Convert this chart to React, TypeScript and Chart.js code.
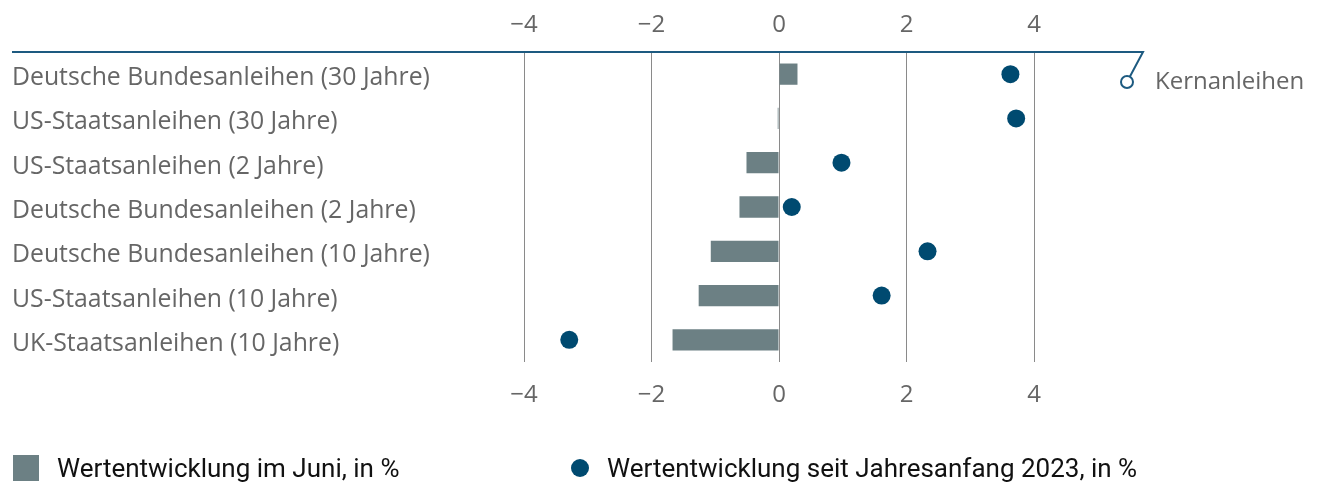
import React, { useEffect, useRef } from "react";
import { Chart, registerables } from "chart.js";

Chart.register(...registerables);

const categories = [
  "Deutsche Bundesanleihen (30 Jahre)",
  "US-Staatsanleihen (30 Jahre)",
  "US-Staatsanleihen (2 Jahre)",
  "Deutsche Bundesanleihen (2 Jahre)",
  "Deutsche Bundesanleihen (10 Jahre)",
  "US-Staatsanleihen (10 Jahre)",
  "UK-Staatsanleihen (10 Jahre)",
];
const juneValues = [0.29, -0.02, -0.51, -0.62, -1.07, -1.26, -1.67];
const ytdValues = [3.63, 3.72, 0.98, 0.2, 2.33, 1.61, -3.29];
const tickValues = [-4, -2, 0, 2, 4];
const juneLabel = "Wertentwicklung im Juni, in %";
const ytdLabel = "Wertentwicklung seit Jahresanfang 2023, in %";
const groupLabel = "Kernanleihen";

const BAR_COLOR = "#6c8084";
const DOT_COLOR = "#004a70";
const LINE_COLOR = "#1d5a80";
const TEXT_GRAY = "#666666";
const FONT = "'Open Sans'";
const LEGEND_FONT = "Roboto";

const fmt = (v: number) => (v < 0 ? "\u2212" + Math.abs(v) : String(v));

const decorPlugin = {
  id: "decor",
  afterDraw(chart: any) {
    const { ctx, chartArea } = chart;
    const top = chartArea.top;
    ctx.save();
    ctx.strokeStyle = LINE_COLOR;
    ctx.lineWidth = 2;
    const rightX = chartArea.right + 109;
    const cx = chartArea.right + 93;
    const cy = top + 30;
    const r = 6;
    ctx.beginPath();
    ctx.moveTo(4, top);
    ctx.lineTo(rightX, top);
    const ang = Math.atan2(top - cy, rightX - cx);
    ctx.lineTo(cx + r * Math.cos(ang), cy + r * Math.sin(ang));
    ctx.stroke();
    ctx.beginPath();
    ctx.arc(cx, cy, r, 0, Math.PI * 2);
    ctx.fillStyle = "#ffffff";
    ctx.fill();
    ctx.stroke();
    ctx.fillStyle = TEXT_GRAY;
    ctx.font = `24px ${FONT}`;
    ctx.textBaseline = "middle";
    ctx.textAlign = "left";
    ctx.fillText(groupLabel, chartArea.right + 121, top + 30);

    const ly = 460;
    ctx.fillStyle = BAR_COLOR;
    ctx.fillRect(5, ly - 13, 26, 26);
    ctx.fillStyle = "#111111";
    ctx.font = `26px ${LEGEND_FONT}`;
    ctx.fillText(juneLabel, 49, ly + 2);
    ctx.beginPath();
    ctx.arc(572, ly, 9, 0, Math.PI * 2);
    ctx.fillStyle = DOT_COLOR;
    ctx.fill();
    ctx.fillStyle = "#111111";
    ctx.fillText(ytdLabel, 599, ly + 2);
    ctx.restore();
  },
};

export default function App() {
  const ref = useRef<HTMLCanvasElement | null>(null);
  useEffect(() => {
    document.body.style.overflow = "hidden";
    if (!ref.current) return;
    const chart = new Chart(ref.current, {
      type: "bar",
      data: {
        labels: categories,
        datasets: [
          {
            type: "line",
            label: ytdLabel,
            data: ytdValues,
            indexAxis: "y",
            showLine: false,
            pointRadius: 9,
            pointHoverRadius: 9,
            pointBackgroundColor: DOT_COLOR,
            pointBorderWidth: 0,
            backgroundColor: DOT_COLOR,
            borderColor: DOT_COLOR,
            xAxisID: "x",
            order: 0,
          } as any,
          {
            type: "bar",
            label: juneLabel,
            data: juneValues,
            backgroundColor: BAR_COLOR,
            borderWidth: 0,
            barPercentage: 0.48,
            categoryPercentage: 1,
            xAxisID: "x",
            order: 1,
          },
        ],
      },
      options: {
        indexAxis: "y",
        animation: false,
        responsive: true,
        maintainAspectRatio: false,
        layout: { padding: { left: 4, right: 276, top: 0, bottom: 0 } },
        plugins: { legend: { display: false }, tooltip: { enabled: false } },
        scales: {
          x: {
            type: "linear",
            position: "bottom",
            min: -4,
            max: 4,
            afterBuildTicks: (s: any) => {
              s.ticks = tickValues.map((v) => ({ value: v }));
            },
            afterFit: (s: any) => {
              s.height = 130;
            },
            ticks: {
              padding: 19,
              color: TEXT_GRAY,
              font: { family: FONT, size: 24 },
              callback: (v: any) => fmt(Number(v)),
            },
            grid: { color: "#8a8a8a", lineWidth: 1, drawTicks: false },
            border: { display: false },
          },
          x2: {
            type: "linear",
            position: "top",
            min: -4,
            max: 4,
            afterBuildTicks: (s: any) => {
              s.ticks = tickValues.map((v) => ({ value: v }));
            },
            afterFit: (s: any) => {
              s.height = 44;
            },
            ticks: {
              padding: 12,
              color: TEXT_GRAY,
              font: { family: FONT, size: 24 },
              callback: (v: any) => fmt(Number(v)),
            },
            grid: { display: false, drawTicks: false },
            border: { display: false },
          },
          y: {
            type: "category",
            position: "left",
            afterFit: (s: any) => {
              s.width = 512;
            },
            ticks: {
              crossAlign: "far",
              padding: 0,
              labelOffset: 4,
              color: TEXT_GRAY,
              font: { family: FONT, size: 24.8 },
            },
            grid: { display: false, drawTicks: false },
            border: { display: false },
          },
        },
      } as any,
      plugins: [decorPlugin],
    });
    return () => chart.destroy();
  }, []);
  return (
    <div style={{ width: 1302, height: 484, position: "relative", marginBottom: -8 }}>
      <canvas ref={ref} />
    </div>
  );
}
